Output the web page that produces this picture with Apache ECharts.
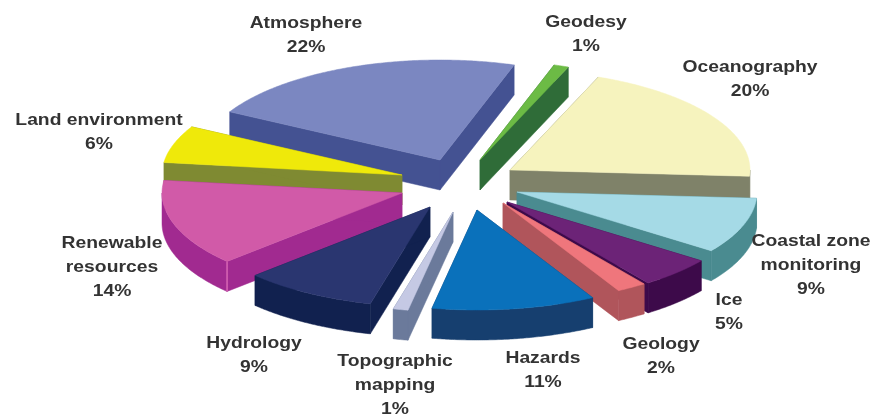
<!DOCTYPE html>
<html>
<head>
<meta charset="utf-8">
<style>html,body{margin:0;padding:0;background:#fff}#chart{width:885px;height:419px}</style>
<script src="https://cdn.jsdelivr.net/npm/echarts@6/dist/echarts.min.js"></script>
</head>
<body>
<div id="chart"></div>
<script>
// Share of applications, in percent, clockwise from the upper left of the pie.
var categories = ['Atmosphere', 'Geodesy', 'Oceanography', 'Coastal zone monitoring', 'Ice', 'Geology',
  'Hazards', 'Topographic mapping', 'Hydrology', 'Renewable resources', 'Land environment'];
var shares = [22, 1, 20, 9, 5, 2, 11, 1, 9, 14, 6];

// Label wrapping, one entry per slice.
var labelLines = [['Atmosphere'], ['Geodesy'], ['Oceanography'], ['Coastal zone', 'monitoring'], ['Ice'], ['Geology'],
  ['Hazards'], ['Topographic', 'mapping'], ['Hydrology'], ['Renewable', 'resources'], ['Land environment']];

// Palette: upper face and side walls of each slice.
var topColors = ['#7B87C1', '#6CBB45', '#F6F3BE', '#A5DAE6', '#6C2377', '#EF767C', '#0A71BB', '#C5C9E4', '#2A3670', '#D15AA8', '#EFE90A'];
var wallColors = ['#445292', '#2F6C38', '#7F8269', '#4A8B90', '#3D0A4A', '#B0555B', '#163F6F', '#6B7A9B', '#11214F', '#A12A90', '#7F8A32'];

// Exploded-pie layout.
var pieCenter = [460, 185];
var radiusX = 240, radiusY = 100, depth = 30;
var startAngle = 208.8;
var explodeOffset = [[-20, -25], [20, -25], [50, -15], [57, 7], [47, 17], [43, 18], [17, 25], [-7, 27], [-30, 22], [-58, 8], [-58, -10]];
var paintOrder = [0, 1, 2, 10, 9, 3, 4, 5, 6, 7, 8];
var labelAnchor = [[306, 35], [586, 34], [750, 79], [811, 265], [729, 312], [661, 356], [543, 370], [395, 385], [254, 355], [112, 267], [99, 132]];

var total = shares.reduce(function (a, b) { return a + b; }, 0);
var spans = [];
var cursor = startAngle;
shares.forEach(function (v) {
  var next = cursor + v / total * 360;
  spans.push([cursor, next]);
  cursor = next;
});

function rimPoint(o, deg, drop) {
  var r = deg * Math.PI / 180;
  return [o[0] + radiusX * Math.cos(r), o[1] + radiusY * Math.sin(r) + (drop || 0)];
}

function arcPoints(o, a0, a1, drop) {
  var pts = [];
  var n = Math.max(2, Math.ceil(Math.abs(a1 - a0) * 2));
  for (var i = 0; i <= n; i++) {
    pts.push(rimPoint(o, a0 + (a1 - a0) * i / n, drop));
  }
  return pts;
}

function poly(points, fill, z2) {
  return { type: 'polygon', z2: z2, shape: { points: points }, style: { fill: fill, stroke: fill, lineWidth: 0.5 } };
}

// Walls that face the viewer, then the upper face, stacked by paint order.
function renderSlice(params) {
  var i = params.dataIndex;
  var o = [pieCenter[0] + explodeOffset[i][0], pieCenter[1] + explodeOffset[i][1]];
  var a0 = spans[i][0], a1 = spans[i][1];
  var layer = paintOrder.indexOf(i) * 10;
  var wall = wallColors[i];
  var children = [];

  [a0, a1].forEach(function (a) {
    var p = rimPoint(o, a);
    children.push(poly([o, p, [p[0], p[1] + depth], [o[0], o[1] + depth]], wall, layer));
  });

  // Only the part of the rim on the near side of the pie shows a wall.
  for (var k = 0; k <= 1; k++) {
    var lo = Math.max(a0, k * 360), hi = Math.min(a1, k * 360 + 180);
    if (hi > lo) {
      var upper = arcPoints(o, lo, hi, 0);
      var lower = arcPoints(o, hi, lo, depth);
      children.push(poly(upper.concat(lower), wall, layer + 1));
    }
  }

  // The outer corner of the large front slice catches a light edge.
  if (topColors[i] === '#D15AA8') {
    var c = rimPoint(o, a0);
    children.push({
      type: 'line',
      z2: layer + 1,
      shape: { x1: c[0], y1: c[1], x2: c[0], y2: c[1] + depth },
      style: { stroke: '#D866B4', lineWidth: 1.5 }
    });
  }

  var face = [o].concat(arcPoints(o, a0, a1, 0));
  children.push(poly(face, topColors[i], layer + 2));

  return { type: 'group', children: children };
}

var labelGraphics = [];
labelLines.forEach(function (lines, i) {
  var text = lines.concat([shares[i] + '%']).join('\n');
  labelGraphics.push({
    type: 'text',
    x: labelAnchor[i][0],
    y: labelAnchor[i][1],
    scaleX: 1.17,
    z: 10,
    style: {
      text: text,
      fill: '#333333',
      font: 'bold 16.5px "Liberation Sans", Arial, sans-serif',
      lineHeight: 24,
      align: 'center',
      verticalAlign: 'middle'
    }
  });
});

var chart = echarts.init(document.getElementById('chart'), null, { renderer: 'canvas' });
chart.setOption({
  animation: false,
  backgroundColor: '#ffffff',
  graphic: labelGraphics,
  series: [{
    type: 'custom',
    coordinateSystem: 'none',
    renderItem: renderSlice,
    data: shares.map(function (v, i) { return { name: categories[i], value: v }; })
  }]
});
</script>
</body>
</html>
